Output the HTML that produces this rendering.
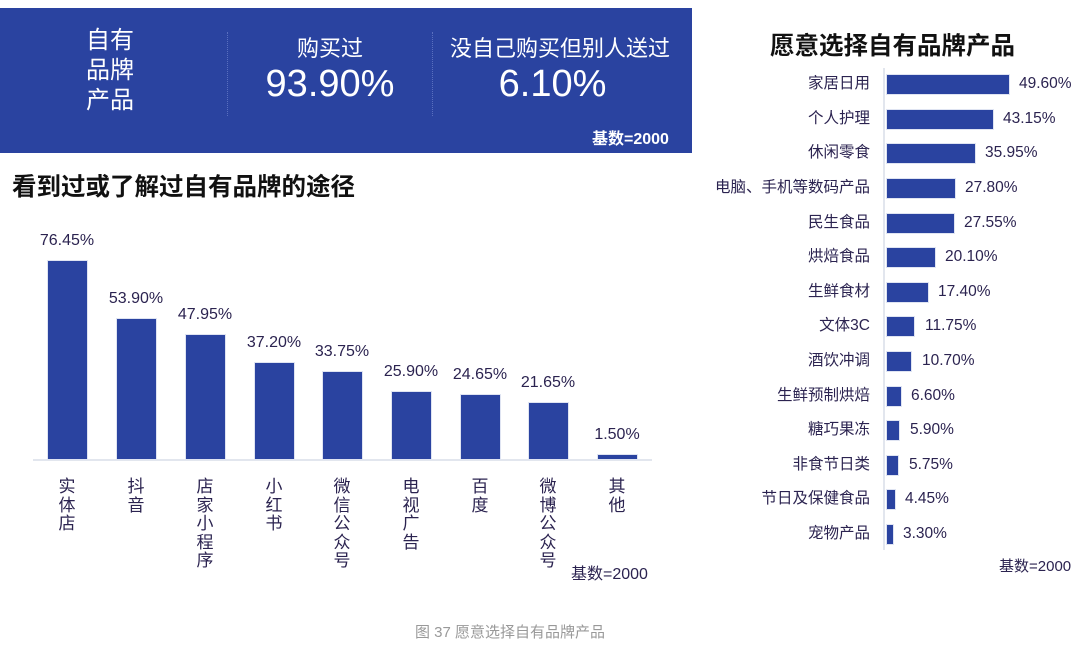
<!DOCTYPE html>
<html><head><meta charset="utf-8"><style>
body{margin:0;width:1080px;height:645px;background:#fff;position:relative;overflow:hidden;font-family:"Liberation Sans","Noto Sans CJK SC",sans-serif;color:#2b2350}
.a{position:absolute;white-space:nowrap}
.box{position:absolute;left:0;top:8px;width:692px;height:145px;background:#2a43a0}
.w{color:#fff}
.bar{position:absolute;background:#2a43a0;box-shadow:0 0 0 1px #dfe4f2}
.vl{position:absolute;width:20px;font-size:17px;line-height:18.5px;text-align:center;white-space:normal;word-break:break-all}
.rl{position:absolute;right:210px;font-size:15.5px;line-height:20px;text-align:right;white-space:nowrap}
.rv{position:absolute;font-size:15.5px;line-height:20px;white-space:nowrap}
.lv{position:absolute;width:80px;text-align:center;font-size:16px}
</style></head><body>
<div class="box"></div>
<div class="a w" style="left:86px;top:26px;font-size:24px;line-height:30px;white-space:normal;width:52px">自有<br>品牌<br>产品</div>
<div class="a" style="left:227px;top:32px;height:84px;border-left:1px dotted #5a6fbf"></div>
<div class="a" style="left:432px;top:32px;height:84px;border-left:1px dotted #5a6fbf"></div>
<div class="a w" style="left:230px;width:200px;text-align:center;top:31px;font-size:22px">购买过</div>
<div class="a w" style="left:230px;width:200px;text-align:center;top:63px;font-size:38px">93.90%</div>
<div class="a w" style="left:435px;width:250px;text-align:center;top:31px;font-size:22px">没自己购买但别人送过</div>
<div class="a w" style="left:435px;width:235px;text-align:center;top:63px;font-size:38px">6.10%</div>
<div class="a w" style="left:592px;top:125px;font-size:16px;font-weight:bold">基数=2000</div>
<div class="a" style="left:12px;top:168px;font-size:24.5px;font-weight:bold;color:#111">看到过或了解过自有品牌的途径</div>
<div class="a" style="left:770px;top:27px;font-size:24.5px;font-weight:bold;color:#111">愿意选择自有品牌产品</div>
<div class="a" style="left:33px;top:459px;width:619px;height:2px;background:#e2e6ee"></div>
<div class="a" style="left:883px;top:68px;width:2px;height:482px;background:#e2e6ee"></div>

<div class="bar" style="left:48px;top:261px;width:39px;height:198px"></div><div class="lv a" style="left:27px;top:232px">76.45%</div><div class="vl" style="left:57px;top:478px">实体店</div>
<div class="bar" style="left:117px;top:319px;width:39px;height:140px"></div><div class="lv a" style="left:96px;top:290px">53.90%</div><div class="vl" style="left:126px;top:478px">抖音</div>
<div class="bar" style="left:186px;top:335px;width:39px;height:124px"></div><div class="lv a" style="left:165px;top:306px">47.95%</div><div class="vl" style="left:195px;top:478px">店家小程序</div>
<div class="bar" style="left:255px;top:363px;width:39px;height:96px"></div><div class="lv a" style="left:234px;top:334px">37.20%</div><div class="vl" style="left:264px;top:478px">小红书</div>
<div class="bar" style="left:323px;top:372px;width:39px;height:87px"></div><div class="lv a" style="left:302px;top:343px">33.75%</div><div class="vl" style="left:332px;top:478px">微信公众号</div>
<div class="bar" style="left:392px;top:392px;width:39px;height:67px"></div><div class="lv a" style="left:371px;top:363px">25.90%</div><div class="vl" style="left:401px;top:478px">电视广告</div>
<div class="bar" style="left:461px;top:395px;width:39px;height:64px"></div><div class="lv a" style="left:440px;top:366px">24.65%</div><div class="vl" style="left:470px;top:478px">百度</div>
<div class="bar" style="left:529px;top:403px;width:39px;height:56px"></div><div class="lv a" style="left:508px;top:374px">21.65%</div><div class="vl" style="left:538px;top:478px">微博公众号</div>
<div class="bar" style="left:598px;top:455px;width:39px;height:4px"></div><div class="lv a" style="left:577px;top:426px">1.50%</div><div class="vl" style="left:607px;top:478px">其他</div>
<div class="a" style="left:571px;top:560px;font-size:16px">基数=2000</div>

<div class="bar" style="left:887px;top:75px;width:122px;height:19px"></div><div class="rl" style="top:74px">家居日用</div><div class="rv" style="left:1019px;top:74px">49.60%</div>
<div class="bar" style="left:887px;top:110px;width:106px;height:19px"></div><div class="rl" style="top:109px">个人护理</div><div class="rv" style="left:1003px;top:109px">43.15%</div>
<div class="bar" style="left:887px;top:144px;width:88px;height:19px"></div><div class="rl" style="top:143px">休闲零食</div><div class="rv" style="left:985px;top:143px">35.95%</div>
<div class="bar" style="left:887px;top:179px;width:68px;height:19px"></div><div class="rl" style="top:178px">电脑、手机等数码产品</div><div class="rv" style="left:965px;top:178px">27.80%</div>
<div class="bar" style="left:887px;top:214px;width:67px;height:19px"></div><div class="rl" style="top:213px">民生食品</div><div class="rv" style="left:964px;top:213px">27.55%</div>
<div class="bar" style="left:887px;top:248px;width:48px;height:19px"></div><div class="rl" style="top:247px">烘焙食品</div><div class="rv" style="left:945px;top:247px">20.10%</div>
<div class="bar" style="left:887px;top:283px;width:41px;height:19px"></div><div class="rl" style="top:282px">生鲜食材</div><div class="rv" style="left:938px;top:282px">17.40%</div>
<div class="bar" style="left:887px;top:317px;width:27px;height:19px"></div><div class="rl" style="top:316px">文体3C</div><div class="rv" style="left:925px;top:316px">11.75%</div>
<div class="bar" style="left:887px;top:352px;width:24px;height:19px"></div><div class="rl" style="top:351px">酒饮冲调</div><div class="rv" style="left:922px;top:351px">10.70%</div>
<div class="bar" style="left:887px;top:387px;width:14px;height:19px"></div><div class="rl" style="top:386px">生鲜预制烘焙</div><div class="rv" style="left:911px;top:386px">6.60%</div>
<div class="bar" style="left:887px;top:421px;width:12px;height:19px"></div><div class="rl" style="top:420px">糖巧果冻</div><div class="rv" style="left:910px;top:420px">5.90%</div>
<div class="bar" style="left:887px;top:456px;width:11px;height:19px"></div><div class="rl" style="top:455px">非食节日类</div><div class="rv" style="left:909px;top:455px">5.75%</div>
<div class="bar" style="left:887px;top:490px;width:8px;height:19px"></div><div class="rl" style="top:489px">节日及保健食品</div><div class="rv" style="left:905px;top:489px">4.45%</div>
<div class="bar" style="left:887px;top:525px;width:6px;height:19px"></div><div class="rl" style="top:524px">宠物产品</div><div class="rv" style="left:903px;top:524px">3.30%</div>
<div class="a" style="left:999px;top:555px;font-size:15px">基数=2000</div>
<div class="a" style="left:415px;top:621px;font-size:15px;color:#999">图 37 愿意选择自有品牌产品</div>
</body></html>
